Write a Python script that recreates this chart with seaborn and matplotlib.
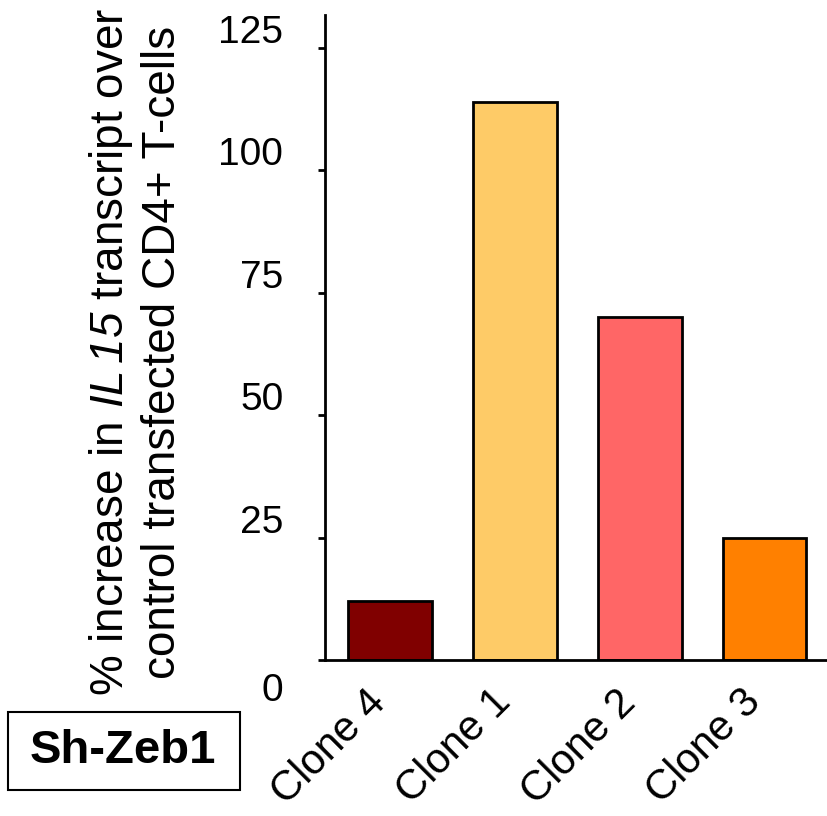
import matplotlib
matplotlib.use("Agg")
import matplotlib.pyplot as plt
import matplotlib.transforms as mtransforms
from matplotlib.patches import Rectangle
import seaborn as sns

# data
clones = ["Clone 4", "Clone 1", "Clone 2", "Clone 3"]
increase = [12.0, 113.8, 70.1, 24.9]
bar_colors = ["#800000", "#FECB67", "#FF6666", "#FF8000"]
y_ticks = [0, 25, 50, 75, 100, 125]
y_tick_labels = ["0", "25", "50", "75", "100", "125"]

sns.set_style("white")
plt.rcParams["font.family"] = ["Liberation Sans", "DejaVu Sans"]
plt.rcParams["text.color"] = "black"
plt.rcParams["axes.labelcolor"] = "black"
plt.rcParams["xtick.color"] = "black"
plt.rcParams["ytick.color"] = "black"
# only IL15 goes through mathtext, and it is italic throughout
plt.rcParams["mathtext.fontset"] = "custom"
plt.rcParams["mathtext.rm"] = "Liberation Sans:italic"
plt.rcParams["mathtext.it"] = "Liberation Sans:italic"

fig = plt.figure(figsize=(8.27, 8.16), dpi=100)
ax = fig.add_axes([0.393, 0.191, 0.607, 0.791])

sns.barplot(x=clones, y=increase, hue=clones, palette=bar_colors, legend=False,
            width=0.67, edgecolor="black", linewidth=2, saturation=1, ax=ax)

ax.set_xlim(-0.52, 3.5)
ax.set_ylim(0, 131.7)
ax.set_xlabel("")
ax.set_ylabel("")

for side in ["top", "right"]:
    ax.spines[side].set_visible(False)
for side in ["left", "bottom"]:
    ax.spines[side].set_linewidth(2)
    ax.spines[side].set_color("black")

ax.set_yticks(y_ticks)
ax.set_yticklabels(y_tick_labels, fontsize=28, color="black")
ax.tick_params(axis="y", left=True, direction="out", length=5, width=2, pad=25,
               color="black")
ax.tick_params(axis="x", bottom=False, length=0, pad=26)
ax.set_xticks(range(len(clones)))
ax.set_xticklabels(clones, fontsize=30, rotation=45, ha="right", va="center",
                   rotation_mode="anchor", color="black")

# the reference has its tick numbers sitting a little off their ticks
for lab, val in zip(ax.get_yticklabels(), y_ticks):
    dy = 27 if val == 0 else -19
    off = mtransforms.ScaledTranslation(0, -dy / 100, fig.dpi_scale_trans)
    lab.set_transform(lab.get_transform() + off)
for lab in ax.get_xticklabels():
    off = mtransforms.ScaledTranslation(-10 / 100, 0, fig.dpi_scale_trans)
    lab.set_transform(lab.get_transform() + off)

fig.text(136 / 827, 1 - 352 / 816,
         "% increase in $\\mathrm{IL\\,15}$ transcript over\ncontrol transfected CD4+ T-cells",
         rotation=90, ha="center", va="center", multialignment="center",
         fontsize=33, linespacing=1.15)

# Sh-Zeb1 box
fig.patches.append(Rectangle((8 / 827, 1 - 790 / 816), 232 / 827, 78 / 816,
                             transform=fig.transFigure, fill=False,
                             edgecolor="black", linewidth=1.5))
fig.text(123 / 827, 1 - 751 / 816, "Sh-Zeb1", ha="center", va="center",
         fontsize=34, fontweight="bold")

fig.savefig("out.png", dpi=100)
